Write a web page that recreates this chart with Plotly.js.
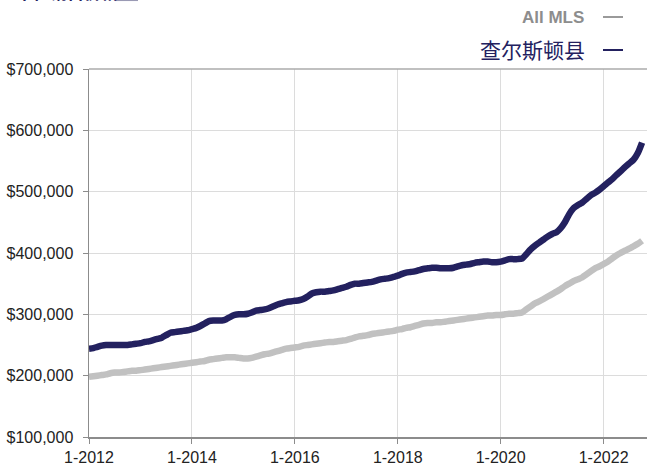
<!DOCTYPE html>
<html>
<head>
<meta charset="utf-8">
<script src="https://cdn.plot.ly/plotly-3.0.1.min.js"></script>
<style>html,body{margin:0;padding:0;background:#fff;}#chart{width:647px;height:466px;}</style>
</head>
<body>
<div id="chart"></div>
<script>
// Monthly median price, Jan 2012 .. Oct 2022 (USD)
const startMonth = '2012-01';
const charlestonCounty = [
244000,245000,247000,249000,250000,250000,250000,250000,250000,250000,251000,252000,
253000,255000,256000,258000,260000,262000,266000,270000,271000,272000,273000,274000,
276000,278000,281000,285000,289000,290000,290000,290000,292000,296000,299000,300000,
300000,301000,303000,306000,307000,308000,310000,313000,316000,318000,320000,321000,
322000,323000,325000,329000,334000,336000,337000,337000,338000,339000,341000,343000,
345000,348000,350000,350000,351000,352000,353000,355000,357000,358000,359000,361000,
363000,366000,368000,369000,370000,372000,374000,375000,376000,376000,375000,375000,
375000,376000,378000,380000,381000,382000,384000,385000,386000,386000,385000,385000,
386000,388000,390000,390000,390000,391000,398000,406000,412000,417000,422000,427000,
431000,434000,440000,450000,463000,473000,478000,482000,488000,494000,498000,503000,
509000,515000,520000,527000,533000,540000,546000,552000,563000,580000
];
const allMLS = [
198000,199000,200000,201000,202000,204000,205000,205000,206000,207000,208000,208000,
209000,210000,211000,212000,213000,214000,215000,216000,217000,218000,219000,220000,
221000,222000,223000,224000,226000,227000,228000,229000,230000,230000,230000,229000,
228000,228000,229000,231000,233000,235000,236000,238000,240000,242000,244000,245000,
246000,247000,249000,250000,251000,252000,253000,254000,255000,255000,256000,257000,
258000,260000,262000,264000,265000,266000,268000,269000,270000,271000,272000,273000,
275000,276000,278000,279000,281000,283000,285000,286000,286000,287000,287000,288000,
289000,290000,291000,292000,293000,294000,295000,296000,297000,298000,298000,299000,
299000,300000,301000,301000,302000,303000,308000,313000,318000,321000,325000,329000,
333000,337000,341000,346000,350000,354000,357000,360000,365000,370000,375000,378000,
382000,386000,391000,396000,400000,404000,407000,411000,415000,420000
];
const xTickVals = ['2012-01-01','2014-01-01','2016-01-01','2018-01-01','2020-01-01','2022-01-01'];
const xTickText = ['1-2012','1-2014','1-2016','1-2018','1-2020','1-2022'];
const yTickVals = [100000,200000,300000,400000,500000,600000,700000];
const yTickText = ['$100,000','$200,000','$300,000','$400,000','$500,000','$600,000','$700,000'];
const seriesNames = ['All MLS','查尔斯顿县'];
const titleText = '中位销售价格';

function monthDates(n){
  const [y0,m0] = startMonth.split('-').map(Number);
  const out=[];
  for(let i=0;i<n;i++){
    const t=(m0-1)+i; const y=y0+Math.floor(t/12); const m=(t%12)+1;
    out.push(y+'-'+String(m).padStart(2,'0')+'-01');
  }
  return out;
}

const W=647,H=466,L=89,R=0,T=69,B=29;
const pw=W-L-R, ph=H-T-B;
const px=x=>(x-L)/pw, py=y=>(H-B-y)/ph;
const NAVY='#23215f', GRAY='#c1c1c1';

const traces=[
  {x:monthDates(allMLS.length), y:allMLS, name:seriesNames[0], type:'scatter', mode:'lines',
   line:{color:GRAY,width:6.5,shape:'spline',smoothing:0.6}, hoverinfo:'skip'},
  {x:monthDates(charlestonCounty.length), y:charlestonCounty, name:seriesNames[1], type:'scatter', mode:'lines',
   line:{color:NAVY,width:6.5,shape:'spline',smoothing:0.6}, hoverinfo:'skip'}
];

const font='"Liberation Sans", Arial, Helvetica, sans-serif';
const layout={
  width:W,height:H,margin:{l:L,r:R,t:T,b:B},
  paper_bgcolor:'#fff',plot_bgcolor:'#fff',showlegend:false,
  font:{family:font,size:16,color:'#222'},
  xaxis:{type:'date',range:['2012-01-01','2022-11-05'],tickvals:xTickVals,ticktext:xTickText,
    showgrid:true,gridcolor:'#dcdcdc',gridwidth:1,showline:true,linecolor:'#8c8c8c',linewidth:1.5,
    ticks:'outside',ticklen:5,tickcolor:'#8c8c8c',tickfont:{size:16,color:'#222'},zeroline:false,fixedrange:true},
  yaxis:{range:[100000,700000],tickvals:yTickVals,ticktext:yTickText,
    showgrid:true,gridcolor:'#dcdcdc',gridwidth:1,showline:true,linecolor:'#8c8c8c',linewidth:1.5,
    ticks:'outside',ticklen:5,tickcolor:'#8c8c8c',tickfont:{size:16,color:'#222'},zeroline:false,fixedrange:true,
    ticklabelstandoff:6},
  shapes:[
    {type:'line',xref:'paper',yref:'paper',x0:0,x1:1,y0:1,y1:1,line:{color:'#ababab',width:1.5}},
    {type:'line',xref:'paper',yref:'paper',x0:px(603),x1:px(623),y0:py(17),y1:py(17),line:{color:'#9a9a9a',width:2}},
    {type:'line',xref:'paper',yref:'paper',x0:px(603),x1:px(623),y0:py(50),y1:py(50),line:{color:NAVY,width:2}},
    {type:'line',xref:'paper',yref:'paper',x0:px(115),x1:px(138),y0:py(0.3),y1:py(0.3),line:{color:'#9a9ab4',width:1.5}}
  ],
  annotations:[
    {xref:'paper',yref:'paper',x:px(586),y:py(17),xanchor:'right',yanchor:'middle',showarrow:false,
     text:'<b>'+seriesNames[0]+'</b>',font:{family:font,size:17,color:'#8d8d8d'}},
    {xref:'paper',yref:'paper',x:px(587),y:py(49),xanchor:'right',yanchor:'middle',showarrow:false,
     text:seriesNames[1],font:{family:'"Noto Sans CJK SC", sans-serif',size:21,color:NAVY}},
    {xref:'paper',yref:'paper',x:px(14),y:py(5.5),xanchor:'left',yanchor:'bottom',showarrow:false,
     text:'<b>'+titleText+'</b>',font:{family:'"Noto Sans CJK SC", sans-serif',size:17,color:NAVY}}
  ]
};
Plotly.newPlot('chart',traces,layout,{displayModeBar:false,staticPlot:true});
</script>
</body>
</html>
